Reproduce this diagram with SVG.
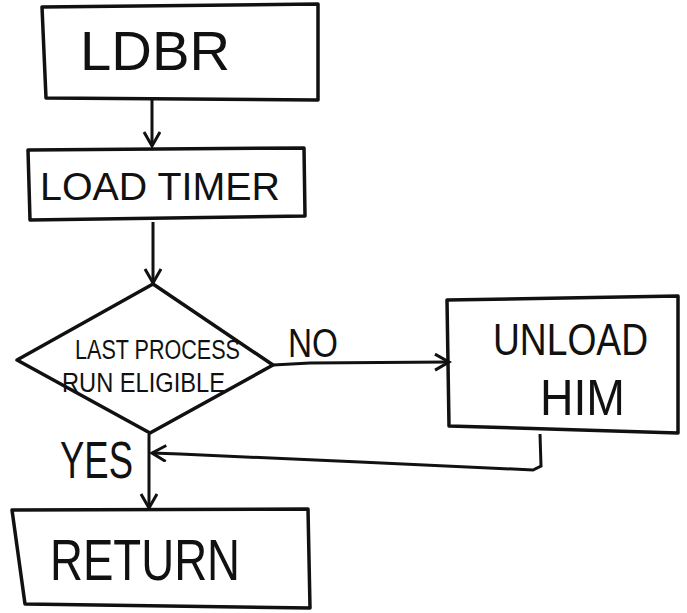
<svg xmlns="http://www.w3.org/2000/svg" width="687" height="613" viewBox="0 0 687 613">
<style>
.box{fill:none;stroke:#111;stroke-width:3.5;stroke-linejoin:round}
.line{fill:none;stroke:#111;stroke-width:3}
.t{font-family:"Liberation Sans",Arial,sans-serif;fill:#111}
</style>
<defs>
<marker id="arr" markerUnits="userSpaceOnUse" markerWidth="20" markerHeight="20" refX="16" refY="9" orient="auto">
<path d="M2,1 L16,9 L2,17" fill="none" stroke="#111" stroke-width="3"/>
</marker>
</defs>
<rect width="687" height="613" fill="#fff"/>
<g id="connectors">
<path class="line" d="M152,100 L152,146" marker-end="url(#arr)"/>
<path class="line" d="M153,222 L153,283" marker-end="url(#arr)"/>
<path class="line" d="M273,365 L310,363 L449,362" marker-end="url(#arr)"/>
<path class="line" d="M149,434 L149,508" marker-end="url(#arr)"/>
<path class="line" d="M540,434 L541,466 L533,470 L360,462 L180,454 L152,453" marker-end="url(#arr)"/>
<text class="t" x="288" y="357" font-size="40" textLength="50" lengthAdjust="spacingAndGlyphs">NO</text>
<text class="t" x="60" y="478" font-size="52" textLength="73" lengthAdjust="spacingAndGlyphs">YES</text>
</g>
<g id="ldbr">
<path class="box" d="M42,7 L318,4 L318,100 L46,98 Z"/>
<text class="t" x="80" y="70" font-size="56" textLength="150" lengthAdjust="spacingAndGlyphs">LDBR</text>
</g>
<g id="load-timer">
<path class="box" d="M28,150 L304,148 L305,216 L30,220 Z"/>
<text class="t" x="40" y="200" font-size="38" textLength="240" lengthAdjust="spacingAndGlyphs">LOAD TIMER</text>
</g>
<g id="decision">
<path class="box" d="M153,284 L273,365 L150,433 L17,360 Z"/>
<text class="t" x="75" y="359" font-size="27" textLength="165" lengthAdjust="spacingAndGlyphs">LAST PROCESS</text>
<text class="t" x="62" y="392" font-size="27" textLength="163" lengthAdjust="spacingAndGlyphs">RUN ELIGIBLE</text>
</g>
<g id="unload-him">
<path class="box" d="M447,300 L678,296 L678,433 L449,426 Z"/>
<text class="t" x="493" y="355" font-size="44" textLength="155" lengthAdjust="spacingAndGlyphs">UNLOAD</text>
<text class="t" x="540" y="415" font-size="50" textLength="85" lengthAdjust="spacingAndGlyphs">HIM</text>
</g>
<g id="return">
<path class="box" d="M12,510 L308,509 L310,608 L25,604 Z"/>
<text class="t" x="50" y="580" font-size="58" textLength="190" lengthAdjust="spacingAndGlyphs">RETURN</text>
</g>
</svg>
